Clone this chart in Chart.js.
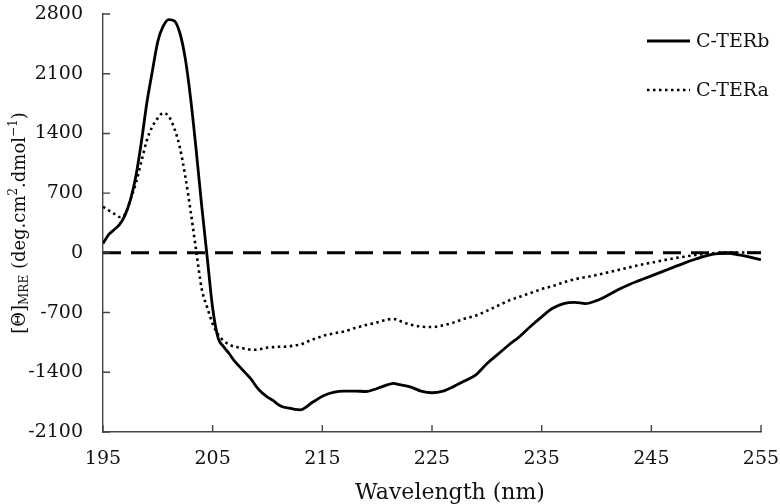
<!DOCTYPE html>
<html>
<head>
<meta charset="utf-8">
<script src="https://cdn.jsdelivr.net/npm/chart.js@4"></script>
<style>
html, body { margin: 0; padding: 0; background: #fff; }
canvas { display: block; }
</style>
</head>
<body>
<canvas id="cdChart" width="780" height="504"></canvas>
<script>
const wavelength = [195, 195.5, 196, 196.5, 197, 197.5, 198, 198.5, 199, 199.5, 200, 200.5, 201, 201.5, 202, 202.5,
    203, 203.5, 204, 204.5, 205, 205.5, 206, 206.5, 207, 207.5, 208, 208.5, 209, 209.5, 210, 210.5, 211, 211.5,
    212, 212.5, 213, 213.5, 214, 214.5, 215, 216, 217, 218, 219, 220, 221, 221.5, 222, 223, 224, 225, 226, 227,
    228, 229, 230, 231, 232, 233, 234, 235, 236, 237, 238, 239, 240, 241, 242, 243, 244, 245, 246, 247, 248, 249,
    250, 251, 252, 253, 254, 255];

const cterb = [110, 210, 270, 330, 440, 620, 900, 1300, 1760, 2130, 2480, 2660, 2735, 2720, 2580, 2280,
    1800, 1200, 550, -50, -650, -1000, -1100, -1180, -1270, -1340, -1410, -1480, -1570, -1640, -1690, -1730, -1780, -1810,
    -1820, -1835, -1840, -1810, -1760, -1720, -1680, -1635, -1620, -1620, -1625, -1590, -1545, -1530, -1545, -1570, -1620, -1640, -1620, -1565,
    -1500, -1430, -1300, -1190, -1080, -980, -860, -750, -650, -595, -580, -595, -560, -500, -430, -370, -320, -270, -220, -170, -120, -75,
    -35, -10, -5, -25, -50, -80];

const ctera = [540, 500, 460, 420, 450, 620, 820, 1070, 1320, 1480, 1580, 1640, 1600, 1460, 1240, 900,
    480, 20, -420, -640, -830, -960, -1030, -1075, -1100, -1110, -1125, -1135, -1135, -1125, -1110, -1105, -1100, -1100,
    -1095, -1085, -1075, -1050, -1020, -1000, -975, -945, -920, -880, -845, -815, -780, -775, -795, -840, -865, -870, -850, -815,
    -770, -735, -680, -620, -560, -515, -470, -425, -390, -345, -310, -285, -260, -230, -200, -170, -140, -115, -90, -65, -45, -25,
    -10, 0, 5, 5, 5, 5];

const zeroLineX = [195, 255];
const zeroLineY = [0, 0];

const xTicks = [195, 205, 215, 225, 235, 245, 255];
const yTicks = [-2100, -1400, -700, 0, 700, 1400, 2100, 2800];

const serif = "'DejaVu Serif', 'Liberation Serif', serif";
Chart.defaults.font.family = serif;
Chart.defaults.color = '#111';

const toPoints = (xs, ys) => xs.map((x, i) => ({ x: x, y: ys[i] }));

function noOverhang(axis) {
    axis.paddingLeft = 0;
    axis.paddingRight = 0;
    axis.paddingTop = 0;
    axis.paddingBottom = 0;
}

// inward tick marks, legend at top right, axis titles
const extras = {
    id: 'extras',
    afterDraw(chart) {
        const ctx = chart.ctx;
        const area = chart.chartArea;
        const xs = chart.scales.x;
        const ys = chart.scales.y;

        ctx.save();
        ctx.strokeStyle = '#444';
        ctx.lineWidth = 1.4;
        ctx.beginPath();
        xTicks.forEach(v => {
            const px = xs.getPixelForValue(v);
            ctx.moveTo(px, area.bottom);
            ctx.lineTo(px, area.bottom - 7);
        });
        yTicks.forEach(v => {
            const py = ys.getPixelForValue(v);
            ctx.moveTo(area.left, py);
            ctx.lineTo(area.left + 7, py);
        });
        ctx.stroke();
        ctx.restore();

        // legend
        ctx.save();
        const rows = [41, 90];
        chart.data.datasets.slice(0, 2).forEach((ds, i) => {
            const y = rows[i];
            ctx.strokeStyle = ds.borderColor;
            ctx.lineWidth = ds.borderWidth;
            ctx.setLineDash(ds.borderDash || []);
            ctx.beginPath();
            ctx.moveTo(647, y);
            ctx.lineTo(690, y);
            ctx.stroke();
            ctx.setLineDash([]);
            ctx.fillStyle = '#111';
            ctx.font = '19px ' + serif;
            ctx.textAlign = 'left';
            ctx.textBaseline = 'middle';
            ctx.fillText(ds.label, 696, y + 1);
        });
        ctx.restore();

        // x axis title
        ctx.save();
        ctx.fillStyle = '#111';
        ctx.font = '22px ' + serif;
        ctx.textAlign = 'center';
        ctx.textBaseline = 'alphabetic';
        ctx.fillText('Wavelength (nm)', 450, 499);
        ctx.restore();

        // y axis title
        const parts = [
            ['[Θ]', 18, 0],
            ['MRE', 12, 5],
            [' (deg.cm', 18, 0],
            ['2', 12, -6],
            ['.dmol', 18, 0],
            ['−1', 12, -6],
            [')', 18, 0]
        ];
        ctx.save();
        let total = 0;
        parts.forEach(p => {
            ctx.font = p[1] + 'px ' + serif;
            total += ctx.measureText(p[0]).width;
        });
        ctx.translate(20, 223);
        ctx.rotate(-Math.PI / 2);
        ctx.fillStyle = '#111';
        ctx.textBaseline = 'middle';
        ctx.textAlign = 'left';
        let pos = -total / 2;
        parts.forEach(p => {
            ctx.font = p[1] + 'px ' + serif;
            ctx.fillText(p[0], pos, p[2]);
            pos += ctx.measureText(p[0]).width;
        });
        ctx.restore();
    }
};

const cdChart = new Chart(document.getElementById('cdChart'), {
    type: 'line',
    data: {
        datasets: [{
            label: 'C-TERb',
            data: toPoints(wavelength, cterb),
            borderColor: '#000',
            borderWidth: 2.8,
            pointRadius: 0,
            cubicInterpolationMode: 'monotone',
            order: 2
        }, {
            label: 'C-TERa',
            data: toPoints(wavelength, ctera),
            borderColor: '#000',
            borderWidth: 2.6,
            borderDash: [2.5, 3.5],
            pointRadius: 0,
            cubicInterpolationMode: 'monotone',
            order: 3
        }, {
            label: 'zero',
            data: toPoints(zeroLineX, zeroLineY),
            borderColor: '#000',
            borderWidth: 3,
            borderDash: [18, 10],
            pointRadius: 0,
            order: 1
        }]
    },
    options: {
        responsive: false,
        animation: false,
        layout: { padding: { left: 0, right: 19, top: 14, bottom: 0 } },
        plugins: {
            legend: { display: false },
            tooltip: { enabled: false }
        },
        scales: {
            x: {
                type: 'linear',
                min: 195,
                max: 255,
                afterBuildTicks: axis => { axis.ticks = xTicks.map(v => ({ value: v })); },
                afterFit: axis => { axis.height = 72; noOverhang(axis); },
                grid: { display: true, drawOnChartArea: false, drawTicks: false },
                border: { display: true, color: '#444', width: 1.4 },
                ticks: { padding: 16, font: { size: 19 }, color: '#111', maxRotation: 0, callback: v => String(v) }
            },
            y: {
                min: -2100,
                max: 2800,
                afterBuildTicks: axis => { axis.ticks = yTicks.map(v => ({ value: v })); },
                afterFit: axis => { axis.width = 103; noOverhang(axis); },
                grid: { display: true, drawOnChartArea: false, drawTicks: false },
                border: { display: true, color: '#444', width: 1.4 },
                ticks: { padding: 20, font: { size: 19 }, color: '#111', callback: v => String(v) }
            }
        }
    },
    plugins: [extras]
});
</script>
</body>
</html>
